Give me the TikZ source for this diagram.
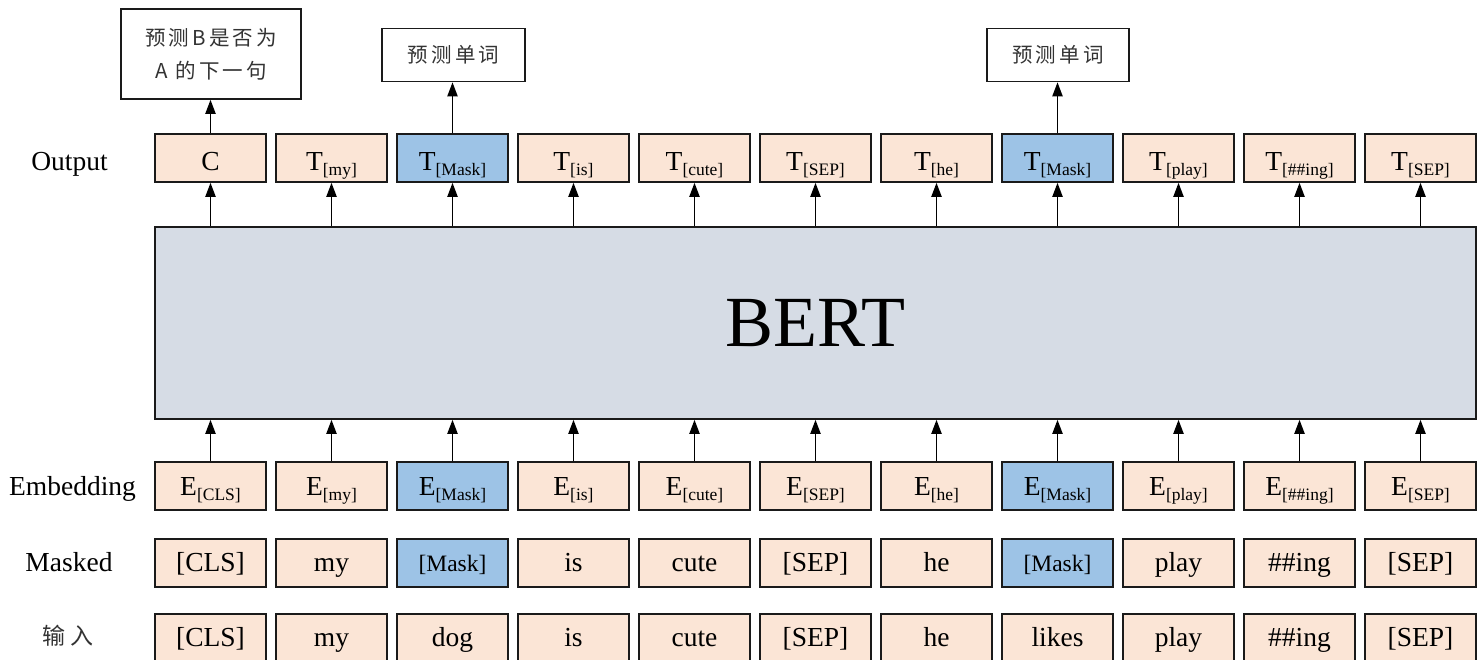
\documentclass[tikz,border=0pt]{standalone}
\usepackage{fontspec}
\setmainfont{Liberation Serif}
\newfontfamily\cjk[LetterSpace=15]{Noto Sans CJK SC}
\usetikzlibrary{arrows.meta}
\definecolor{peach}{HTML}{FBE5D6}
\definecolor{bmask}{HTML}{9DC3E6}
\definecolor{bertc}{HTML}{D6DCE5}
\definecolor{edgec}{HTML}{1A1A1A}
\newcommand{\tok}[2]{#1\raisebox{-5pt}{\fontsize{17.5}{18}\selectfont #2}}
\begin{document}
\begin{tikzpicture}[x=1pt,y=-1pt,
  cell/.style={draw=edgec, line width=1.5pt, fill=peach, minimum width=111pt, minimum height=48pt, inner sep=0pt, text height=21pt, text depth=4pt, font=\fontsize{27.5}{30}\selectfont},
  ocell/.style={cell, text height=24pt, text depth=0pt},
  ecell/.style={cell, text height=22pt, text depth=4pt},
  omask/.style={ocell, fill=bmask},
  emask/.style={ecell, fill=bmask},
  mmask/.style={cell, fill=bmask},
  tbox/.style={draw=edgec, line width=1.5pt, fill=white, inner sep=0pt, align=center, text=black!80, font=\cjk\fontsize{20.5}{33}\selectfont},
  arr/.style={line width=1.9pt, draw=black, -{Triangle[length=14pt,width=10pt]}},
  lab/.style={anchor=base, font=\fontsize{27.5}{30}\selectfont}]
\path[use as bounding box] (0,0) rectangle (1483,659);
\fill[white] (0,0) rectangle (1483,659);

% output row
\foreach \t/\s [count=\i from 0] in {{C}/ocell, {\tok{T}{[my]}}/ocell, {\tok{T}{[Mask]}}/omask, {\tok{T}{[is]}}/ocell, {\tok{T}{[cute]}}/ocell, {\tok{T}{[SEP]}}/ocell, {\tok{T}{[he]}}/ocell, {\tok{T}{[Mask]}}/omask, {\tok{T}{[play]}}/ocell, {\tok{T}{[\#\#ing]}}/ocell, {\tok{T}{[SEP]}}/ocell}
  \node[\s] (o\i) at ({210.5+121*\i},158) {\t};

% embedding row
\foreach \t/\s [count=\i from 0] in {{\tok{E}{[CLS]}}/ecell, {\tok{E}{[my]}}/ecell, {\tok{E}{[Mask]}}/emask, {\tok{E}{[is]}}/ecell, {\tok{E}{[cute]}}/ecell, {\tok{E}{[SEP]}}/ecell, {\tok{E}{[he]}}/ecell, {\tok{E}{[Mask]}}/emask, {\tok{E}{[play]}}/ecell, {\tok{E}{[\#\#ing]}}/ecell, {\tok{E}{[SEP]}}/ecell}
  \node[\s] (e\i) at ({210.5+121*\i},486) {\t};

% masked row
\foreach \t/\s [count=\i from 0] in {{[CLS]}/cell, {my}/cell, {\fontsize{23.5}{26}\selectfont[Mask]}/mmask, {is}/cell, {cute}/cell, {[SEP]}/cell, {he}/cell, {\fontsize{23.5}{26}\selectfont[Mask]}/mmask, {play}/cell, {\#\#ing}/cell, {[SEP]}/cell}
  \node[\s] (m\i) at ({210.5+121*\i},563) {\t};

% input row
\foreach \t [count=\i from 0] in {{[CLS]}, {my}, {dog}, {is}, {cute}, {[SEP]}, {he}, {likes}, {play}, {\#\#ing}, {[SEP]}}
  \node[cell] (n\i) at ({210.5+121*\i},638) {\t};

% BERT
\node[draw=edgec, line width=1.5pt, fill=bertc, minimum width=1321pt, minimum height=192pt, inner sep=0pt, font=\fontsize{72}{80}\selectfont] (bert) at (815.5,323) {BERT};

% top boxes
\node[tbox, minimum width=180pt, minimum height=90pt] (p1) at (211,54) {预测B是否为\\A 的下一句};
\node[tbox, minimum width=143pt, minimum height=53pt] (p2) at (453.5,55) {预测单词};
\node[tbox, minimum width=142pt, minimum height=53pt] (p3) at (1058,55) {预测单词};

% arrows
\foreach \i in {0,...,10} {
  \draw[arr] (e\i.north) -- (e\i.north |- bert.south);
  \draw[arr] (bert.north -| o\i.south) -- (o\i.south);
}
\draw[arr] (o0.north) -- (o0.north |- p1.south);
\draw[arr] (o2.north) -- (o2.north |- p2.south);
\draw[arr] (o7.north) -- (o7.north |- p3.south);

% row labels
\node[lab] (lo) at (69.5,170) {Output};
\node[lab] (le) at (72.5,495) {Embedding};
\node[lab] (lm) at (69,571) {Masked};
\node[font=\cjk\fontsize{23}{24}\selectfont, text=black!80] (li) at (68,636) {输\hspace{5pt}入};
\end{tikzpicture}
\end{document}
